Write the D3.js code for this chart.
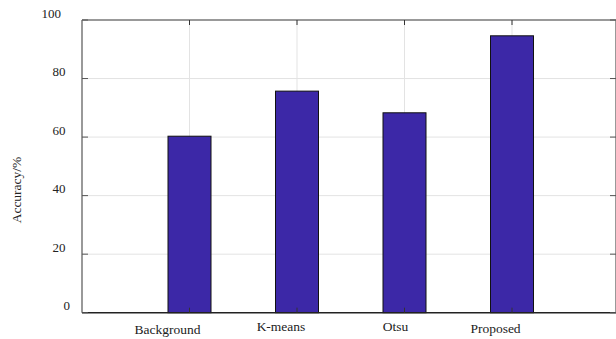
<!DOCTYPE html>
<html>
<head>
<meta charset="utf-8">
<script src="https://cdn.jsdelivr.net/npm/d3@7"></script>
<style>
  body { margin: 0; background: #fff; }
  text { font-family: "Liberation Serif", "Times New Roman", serif; fill: #222; }
</style>
</head>
<body>
<svg id="chart" width="616" height="339"></svg>
<script>
// data
const methods = ["Background", "K-means", "Otsu", "Proposed"];
const accuracy = [60.3, 75.7, 68.3, 94.6];
const yTicks = [0, 20, 40, 60, 80, 100];

// label nudges (the source figure has labels off-centre)
const labelShift = [[-22, 334], [-16, 331], [-9, 331], [-16.5, 333]];
const yLabelShift = { 0: 4.5, 100: -4.5 };

const svg = d3.select("#chart");
const plotL = 82, plotR = 619.5, plotT = 20, plotB = 312.7;

const x = d3.scaleLinear().domain([0, 5]).range([plotL, plotR]);
const y = d3.scaleLinear().domain([0, 100]).range([plotB, plotT]);
const barW = x(0.4) - x(0);

// grid
svg.append("g")
  .selectAll("line")
  .data(yTicks.filter(d => d > 0 && d < 100))
  .enter().append("line")
  .attr("x1", plotL).attr("x2", plotR)
  .attr("y1", d => y(d)).attr("y2", d => y(d))
  .attr("stroke", "#e3e3e3").attr("stroke-width", 1);

svg.append("g")
  .selectAll("line")
  .data(methods)
  .enter().append("line")
  .attr("x1", (d, i) => x(i + 1)).attr("x2", (d, i) => x(i + 1))
  .attr("y1", plotT).attr("y2", plotB)
  .attr("stroke", "#e3e3e3").attr("stroke-width", 1);

// bars
svg.append("g")
  .selectAll("rect")
  .data(accuracy)
  .enter().append("rect")
  .attr("x", (d, i) => x(i + 1) - barW / 2)
  .attr("y", d => y(d))
  .attr("width", barW)
  .attr("height", d => plotB - y(d))
  .attr("fill", "#3c28a7")
  .attr("stroke", "#111")
  .attr("stroke-width", 1);

// frame
svg.append("line").attr("x1", plotL).attr("x2", plotR).attr("y1", plotT).attr("y2", plotT)
  .attr("stroke", "#777").attr("stroke-width", 1.5);
svg.append("line").attr("x1", plotL).attr("x2", plotL).attr("y1", plotT).attr("y2", plotB)
  .attr("stroke", "#777").attr("stroke-width", 1.5);
svg.append("line").attr("x1", plotL).attr("x2", plotR).attr("y1", plotB).attr("y2", plotB)
  .attr("stroke", "#222").attr("stroke-width", 1.5);
svg.append("line").attr("x1", 616).attr("x2", 616).attr("y1", plotT).attr("y2", plotB)
  .attr("stroke", "#777").attr("stroke-width", 1.5);

// y ticks (inward, both sides)
yTicks.forEach(t => {
  svg.append("line").attr("x1", plotL).attr("x2", plotL + 6)
    .attr("y1", y(t)).attr("y2", y(t)).attr("stroke", "#555").attr("stroke-width", 1);
  svg.append("line").attr("x1", 610).attr("x2", 616)
    .attr("y1", y(t)).attr("y2", y(t)).attr("stroke", "#555").attr("stroke-width", 1);
});

// x ticks (inward, top and bottom)
methods.forEach((m, i) => {
  svg.append("line").attr("x1", x(i + 1)).attr("x2", x(i + 1))
    .attr("y1", plotT).attr("y2", plotT + 5).attr("stroke", "#333").attr("stroke-width", 1);
  svg.append("line").attr("x1", x(i + 1)).attr("x2", x(i + 1))
    .attr("y1", plotB).attr("y2", plotB - 5).attr("stroke", "#333").attr("stroke-width", 1);
});

// y tick labels
svg.append("g")
  .selectAll("text")
  .data(yTicks)
  .enter().append("text")
  .attr("x", d => 65.5 + (yLabelShift[d] || 0))
  .attr("y", d => y(d) - 2.5)
  .attr("text-anchor", "end")
  .attr("font-size", "13px")
  .text(d => d);

// x tick labels
svg.append("g")
  .selectAll("text")
  .data(methods)
  .enter().append("text")
  .attr("x", (d, i) => x(i + 1) + labelShift[i][0])
  .attr("y", (d, i) => labelShift[i][1])
  .attr("text-anchor", "middle")
  .attr("font-size", "13.5px")
  .text(d => d);

// y axis title
svg.append("text")
  .attr("transform", "translate(21,190) rotate(-90)")
  .attr("text-anchor", "middle")
  .attr("font-size", "13.5px")
  .text("Accuracy/%");
</script>
</body>
</html>
